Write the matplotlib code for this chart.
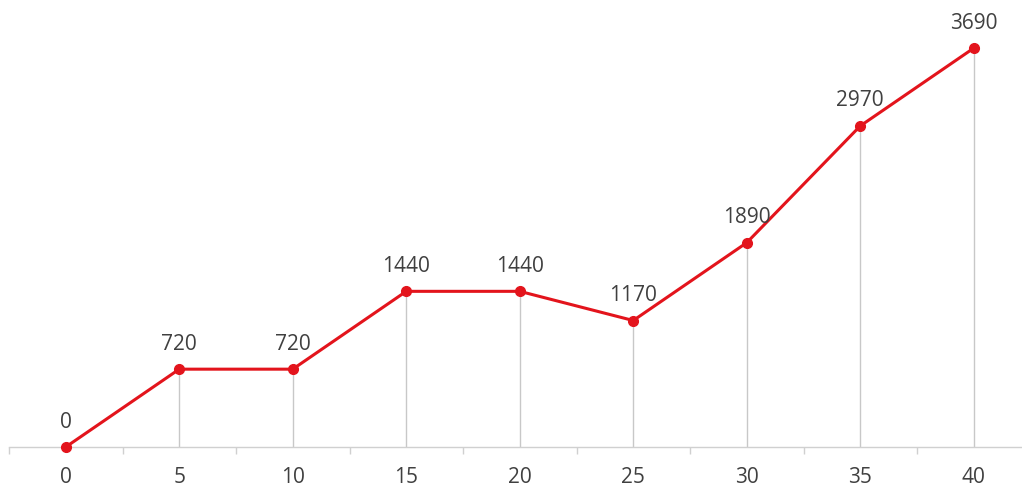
import matplotlib
matplotlib.use("Agg")
import matplotlib.pyplot as plt

x_values = [0, 5, 10, 15, 20, 25, 30, 35, 40]
y_values = [0, 720, 720, 1440, 1440, 1170, 1890, 2970, 3690]
tick_labels = ["0", "5", "10", "15", "20", "25", "30", "35", "40"]

plt.rcParams["font.family"] = ["Open Sans", "DejaVu Sans"]

fig = plt.figure(figsize=(10.22, 4.9), dpi=100)
ax = fig.add_axes([9 / 1022, 43 / 490, 1013 / 1022, 447 / 490])

line_color = "#e3141c"
text_color = "#404040"
grid_color = "#d0d0d0"

# drop lines from each point down to the axis
ax.vlines(x_values, 0, y_values, colors="#c8c8c8", linewidth=1.0, zorder=1)

ax.plot(x_values, y_values, color=line_color, linewidth=2.2, marker="o",
        markersize=7, markerfacecolor=line_color, markeredgecolor=line_color,
        zorder=3, clip_on=False)

for xv, yv in zip(x_values, y_values):
    ax.annotate(str(yv), (xv, yv), xytext=(0, 25), textcoords="offset pixels",
                ha="center", va="center", fontsize=15, color=text_color)

ax.set_xlim(-2.5, -2.5 + 1013 / 22.7)
ax.set_ylim(0, 447 / 0.1081)

ax.set_xticks(x_values)
ax.set_xticklabels(tick_labels)
ax.set_xticks([v + 2.5 for v in range(-5, 40, 5)], minor=True)
ax.tick_params(axis="x", which="major", length=0, pad=14.5, labelsize=15,
               labelcolor=text_color)
ax.tick_params(axis="x", which="minor", length=5, width=1, color=grid_color,
               direction="out")
ax.set_yticks([])

for side in ("left", "right", "top"):
    ax.spines[side].set_visible(False)
ax.spines["bottom"].set_color(grid_color)
ax.spines["bottom"].set_linewidth(1.0)

fig.savefig("out.png", dpi=100)
